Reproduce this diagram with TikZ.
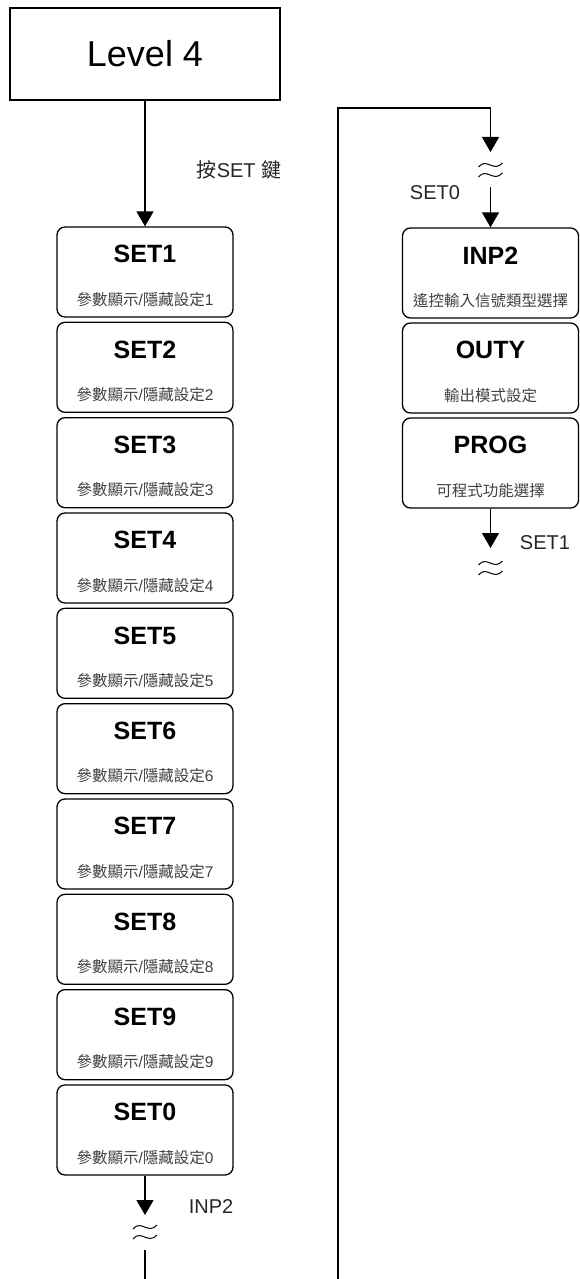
\documentclass[tikz,border=0pt]{standalone}
\usepackage{fontspec}
\setmainfont{Liberation Sans}
\newfontfamily\cjk{Noto Sans CJK TC}
\usetikzlibrary{positioning, arrows.meta}

\tikzset{
  setbox/.style={draw, rounded corners=8pt, line width=1.3pt, minimum width=176pt, minimum height=90pt},
  ttl/.style={font=\fontsize{25}{30}\selectfont\bfseries},
  sub/.style={font=\fontsize{15.5}{18}\selectfont, text=black!75},
  lbl/.style={font=\fontsize{20}{24}\selectfont, text=black!85},
  ln/.style={line width=1.3pt},
  arr/.style={ln, -{Triangle[width=17pt,length=15pt]}},
  brk/.pic={
    \draw[line width=1pt] (-12,-3) .. controls (-4,-13) and (3,3) .. (12,-7);
    \draw[line width=1pt] (-12,7) .. controls (-4,-3) and (3,13) .. (12,3);
  }
}

\begin{document}
\begin{tikzpicture}[x=1pt, y=-1pt]
  \useasboundingbox (0,0) rectangle (579,1279);

  % left column
  \node[draw, line width=1.3pt, minimum width=270pt, minimum height=92pt,
        font=\fontsize{36}{40}\selectfont] (lv) at (145,54) {Level 4};
  \foreach \n [count=\i] in {1,2,3,4,5,6,7,8,9,0} {
    \node[setbox] (s\n) at (145,{272+95.33*(\i-1)}) {};
    \node[ttl] at ([yshift=-28pt]s\n.north) {SET\n};
    \node[sub] at ([yshift=-73pt]s\n.north) {{\cjk 參數顯示}/{\cjk 隱藏設定}\n};
  }
  \draw[arr] (lv.south) -- (s1.north);
  \node[lbl] (key) at (239,170) {{\cjk 按}SET {\cjk 鍵}};

  \coordinate (b1) at (145,1232);
  \coordinate (e1) at (145,1279);
  \pic at (b1) {brk};
  \draw[arr] (s0.south) -- ([yshift=17pt]b1);
  \draw[ln] ([yshift=-18pt]b1) -- (e1);
  \node[lbl] (inpl) at (211,1207) {INP2};

  % right column
  \node[setbox] (inp) at (490.5,273) {};
  \node[ttl] at ([yshift=-28pt]inp.north) {INP2};
  \node[sub] at ([yshift=-73pt]inp.north) {\cjk 遙控輸入信號類型選擇};
  \node[setbox] (outy) at (490.5,368) {};
  \node[ttl] at ([yshift=-28pt]outy.north) {OUTY};
  \node[sub] at ([yshift=-73pt]outy.north) {\cjk 輸出模式設定};
  \node[setbox] (prog) at (490.5,463) {};
  \node[ttl] at ([yshift=-28pt]prog.north) {PROG};
  \node[sub] at ([yshift=-73pt]prog.north) {\cjk 可程式功能選擇};

  \coordinate (e2) at (338,1279);
  \coordinate (c2) at (338,108);
  \coordinate (b2) at (490.5,170);
  \pic at (b2) {brk};
  \draw[arr] (e2) -- (c2) -| ([yshift=18pt]b2);
  \draw[arr] ([yshift=-17pt]b2) -- (inp.north);
  \node[lbl] (set0l) at (435,193) {SET0};

  \coordinate (b3) at (490.5,568);
  \pic at (b3) {brk};
  \draw[arr] (prog.south) -- ([yshift=20pt]b3);
  \node[lbl] (set1l) at (545,543) {SET1};
\end{tikzpicture}
\end{document}
